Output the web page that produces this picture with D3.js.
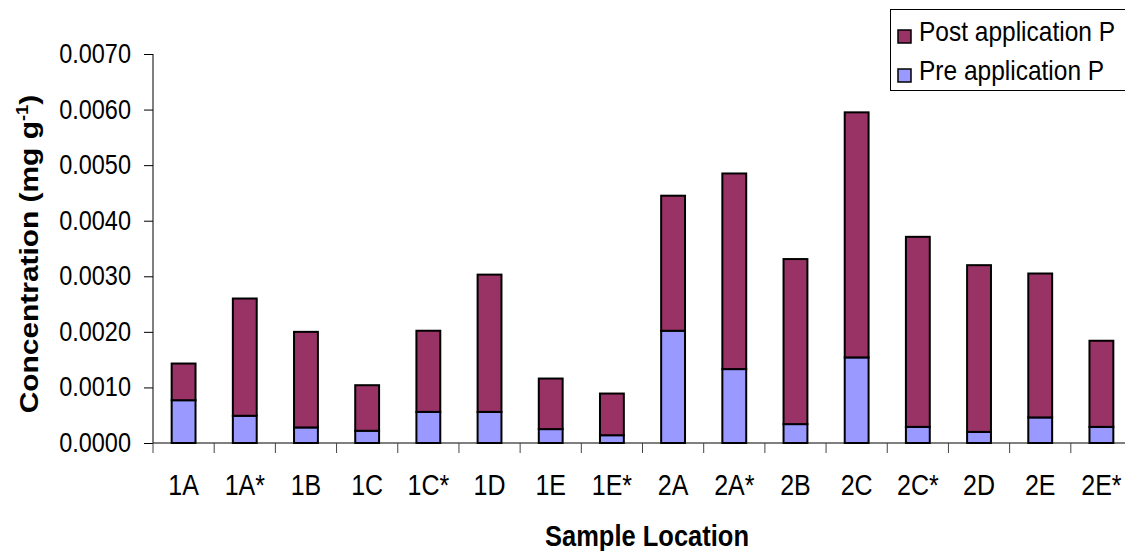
<!DOCTYPE html>
<html>
<head>
<meta charset="utf-8">
<script src="https://cdn.jsdelivr.net/npm/d3@7"></script>
<style>
  html, body { margin: 0; padding: 0; background: #fff; }
  svg { display: block; font-family: "Liberation Sans", Arial, Helvetica, sans-serif; }
</style>
</head>
<body>
<svg id="chart" width="1125" height="551"></svg>
<script>
const categories = ["1A","1A*","1B","1C","1C*","1D","1E","1E*","2A","2A*","2B","2C","2C*","2D","2E","2E*"];
const preValues  = [0.00077,0.00049,0.00028,0.00022,0.00056,0.00056,0.00025,0.00014,0.00202,0.00133,0.00034,0.00154,0.00029,0.00020,0.00046,0.00029];
const postValues = [0.00066,0.00211,0.00172,0.00082,0.00146,0.00247,0.00091,0.00075,0.00243,0.00352,0.00297,0.00441,0.00342,0.00300,0.00259,0.00155];
const yTicks = [0,0.001,0.002,0.003,0.004,0.005,0.006,0.007];
const seriesNames = ["Post application P","Pre application P"];
const colors = {pre: "#9999ff", post: "#993366"};

const svg = d3.select("#chart");
const STRETCH = 1.15;

const x = d3.scaleBand().domain(categories).range([153, 1132]).padding(0);
const y = d3.scaleLinear().domain([0, 0.007]).range([443, 54]);

const rows = categories.map((c, i) => ({cat: c, pre: preValues[i], post: postValues[i]}));
const stack = d3.stack().keys(["pre","post"])(rows);

const barW = x.bandwidth() * 0.39;

// bars
const g = svg.append("g");
stack.forEach(layer => {
  g.selectAll(null).data(layer).enter().append("rect")
    .attr("x", d => x(d.data.cat) + (x.bandwidth() - barW) / 2)
    .attr("y", d => y(d[1]))
    .attr("width", barW)
    .attr("height", d => y(d[0]) - y(d[1]))
    .attr("fill", colors[layer.key])
    .attr("stroke", "#000")
    .attr("stroke-width", 2);
});

// y axis
const yAxis = d3.axisLeft(y).tickValues(yTicks).tickSize(9).tickFormat("");
const yg = svg.append("g").attr("transform", "translate(153,0)").call(yAxis);
yg.select(".domain").attr("stroke", "#000").attr("d", "M0,54V443");
yg.selectAll(".tick line").attr("stroke", "#000");

// x axis
const xg = svg.append("g").attr("transform", "translate(0,443)");
xg.append("line").attr("x1", 153).attr("x2", 1132).attr("y1", 0).attr("y2", 0).attr("stroke", "#000");
const boundaries = categories.map(c => x(c));
xg.selectAll(".xt").data(boundaries).enter().append("line")
  .attr("x1", d => d).attr("x2", d => d).attr("y1", 0).attr("y2", 10)
  .attr("stroke", "#444");

function stretchedText(parent, xPos, yPos, txt, size, anchor, weight) {
  return parent.append("text")
    .attr("transform", `translate(${xPos},${yPos}) scale(1,${STRETCH})`)
    .attr("text-anchor", anchor)
    .attr("font-size", size)
    .attr("font-weight", weight || "normal")
    .attr("fill", "#000")
    .text(txt);
}

// y tick labels
yTicks.forEach(t => {
  stretchedText(svg, 131, y(t) + 9, d3.format(".4f")(t), 23.5, "end");
});

// x tick labels
categories.forEach(c => {
  stretchedText(svg, x(c) + x.bandwidth() / 2, 495, c, 25, "middle");
});

// x title
stretchedText(svg, 647, 546, "Sample Location", 25.5, "middle", "bold");

// y title
const yt = svg.append("text")
  .attr("transform", `translate(38,254) scale(1,${STRETCH}) rotate(-90)`)
  .attr("text-anchor", "middle")
  .attr("font-size", 26)
  .attr("font-weight", "bold");
yt.append("tspan").text("Concentration (mg g");
yt.append("tspan").attr("font-size", 16).attr("dy", -10).text("-1");
yt.append("tspan").attr("dy", 10).text(")");

// legend
const lg = svg.append("g");
lg.append("rect").attr("x", 890.5).attr("y", 9.5).attr("width", 260).attr("height", 81)
  .attr("fill", "#fff").attr("stroke", "#000").attr("stroke-width", 1);
const legendItems = [{name: seriesNames[0], color: colors.post, yy: 30},
                     {name: seriesNames[1], color: colors.pre, yy: 69}];
legendItems.forEach(it => {
  lg.append("rect").attr("x", 898).attr("y", it.yy).attr("width", 13).attr("height", 13)
    .attr("fill", it.color).attr("stroke", "#000").attr("stroke-width", 1.5);
  stretchedText(lg, 919, it.yy + 11, it.name, 24.5, "start");
});
</script>
</body>
</html>
